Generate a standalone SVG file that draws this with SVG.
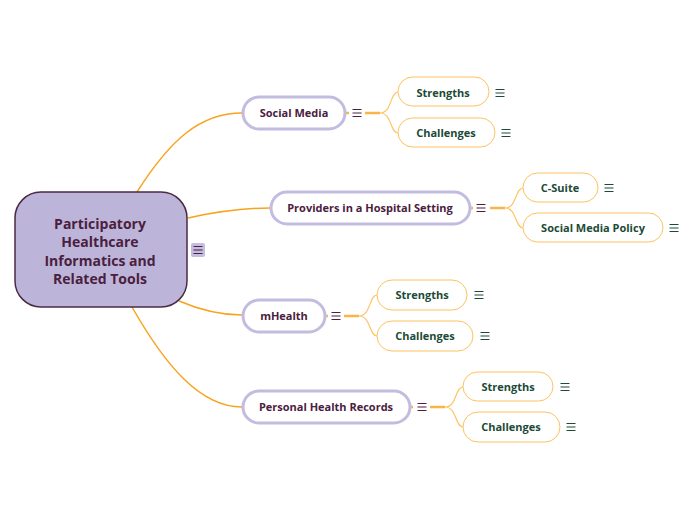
<svg xmlns="http://www.w3.org/2000/svg" width="696" height="520" viewBox="0 0 696 520">
<defs>
<style>
.main{fill:none;stroke:#f7a41d;stroke-width:1.5}
.stub{fill:none;stroke:#fbb545;stroke-width:2.5}
.sub{fill:none;stroke:#fcc56a;stroke-width:1.2}
.l1{fill:#ffffff;stroke:#c2bce0;stroke-width:3}
.l2{fill:#ffffff;stroke:#fdc25e;stroke-width:1}
.t1{font-family:"Open Sans","Noto Sans",sans-serif;font-weight:bold;font-size:11px;fill:#4a2040;text-anchor:middle}
.t2{font-family:"Open Sans","Noto Sans",sans-serif;font-weight:bold;font-size:11px;fill:#1c4a36;text-anchor:middle}
.t0{font-family:"Open Sans","Noto Sans",sans-serif;font-weight:bold;font-size:14px;fill:#4a2040;text-anchor:middle}
.ip{stroke:#4a2040;stroke-width:1.2}
.ig{stroke:#1c4a36;stroke-width:1.2}
</style>
<g id="icon-p"><path class="ip" d="M-4.5,-3.5h9M-4.5,0h9M-4.5,3.5h9"/></g>
<g id="icon-g"><path class="ig" d="M-4.5,-3.5h9M-4.5,0h9M-4.5,3.5h9"/></g>
</defs>
<rect width="696" height="520" fill="#ffffff"/>
<g id="connectors">
<path class="main" d="M137,192 C170,140 200,113 242,113"/>
<path class="main" d="M188,218 C215,212 240,208 270,208"/>
<path class="main" d="M179,301 C200,310 220,315 242,315"/>
<path class="main" d="M132,307 C165,365 200,407 242,407"/>
<path class="stub" d="M346,113h3M365,113h15"/>
<path class="sub" d="M380,113 C392,113 390,92 398,92 M380,113 C392,113 390,133 398,133"/>
<path class="stub" d="M471,208h2M490,208h15"/>
<path class="sub" d="M505,208 C517,208 515,188 523,188 M505,208 C517,208 515,228 523,228"/>
<path class="stub" d="M326,316h2M344,316h15"/>
<path class="sub" d="M359,316 C371,316 369,295 377,295 M359,316 C371,316 369,336 377,336"/>
<path class="stub" d="M411,407h2M430,407h15"/>
<path class="sub" d="M445,407 C457,407 455,387 463,387 M445,407 C457,407 455,427 463,427"/>
</g>
<g id="root">
<rect x="15" y="192" width="172" height="115" rx="26" fill="#bdb5d9" stroke="#4a2a45" stroke-width="1.5"/>
<text class="t0" x="100" y="229">Participatory</text>
<text class="t0" x="100" y="247">Healthcare</text>
<text class="t0" x="100" y="266">Informatics and</text>
<text class="t0" x="100" y="284">Related Tools</text>
<rect x="191" y="243" width="14" height="14" rx="2" fill="#c4bde0"/>
<use href="#icon-p" x="198" y="250"/>
</g>
<g id="social-media">
<rect class="l1" x="243" y="97" width="102" height="32" rx="16"/>
<text class="t1" x="294" y="117">Social Media</text>
<use href="#icon-p" x="357" y="113"/>
</g>
<g id="sm-strengths">
<rect class="l2" x="398" y="77" width="91" height="29" rx="14.5"/>
<text class="t2" x="443" y="96.5">Strengths</text>
<use href="#icon-g" x="500" y="93"/>
</g>
<g id="sm-challenges">
<rect class="l2" x="398" y="118" width="97" height="29" rx="14.5"/>
<text class="t2" x="446" y="137">Challenges</text>
<use href="#icon-g" x="506" y="133"/>
</g>
<g id="providers">
<rect class="l1" x="271" y="192" width="199" height="32" rx="16"/>
<text class="t1" x="370" y="212">Providers in a Hospital Setting</text>
<use href="#icon-p" x="481" y="208"/>
</g>
<g id="c-suite">
<rect class="l2" x="523" y="173" width="75" height="29" rx="14.5"/>
<text class="t2" x="560" y="191.5">C-Suite</text>
<use href="#icon-g" x="609" y="188"/>
</g>
<g id="sm-policy">
<rect class="l2" x="523" y="213" width="140" height="29" rx="14.5"/>
<text class="t2" x="593" y="231.5">Social Media Policy</text>
<use href="#icon-g" x="674" y="228"/>
</g>
<g id="mhealth">
<rect class="l1" x="243" y="300" width="82" height="32" rx="16"/>
<text class="t1" x="284" y="320">mHealth</text>
<use href="#icon-p" x="336" y="316"/>
</g>
<g id="mh-strengths">
<rect class="l2" x="377" y="280" width="90" height="30" rx="15"/>
<text class="t2" x="422" y="298.5">Strengths</text>
<use href="#icon-g" x="479" y="295"/>
</g>
<g id="mh-challenges">
<rect class="l2" x="377" y="321" width="96" height="30" rx="15"/>
<text class="t2" x="425" y="339.5">Challenges</text>
<use href="#icon-g" x="485" y="336"/>
</g>
<g id="phr">
<rect class="l1" x="243" y="391" width="167" height="32" rx="16"/>
<text class="t1" x="326" y="411">Personal Health Records</text>
<use href="#icon-p" x="422" y="407"/>
</g>
<g id="phr-strengths">
<rect class="l2" x="463" y="372" width="90" height="29" rx="14.5"/>
<text class="t2" x="508" y="390.5">Strengths</text>
<use href="#icon-g" x="565" y="387"/>
</g>
<g id="phr-challenges">
<rect class="l2" x="463" y="412" width="97" height="30" rx="15"/>
<text class="t2" x="511" y="430.5">Challenges</text>
<use href="#icon-g" x="571" y="427"/>
</g>
</svg>
